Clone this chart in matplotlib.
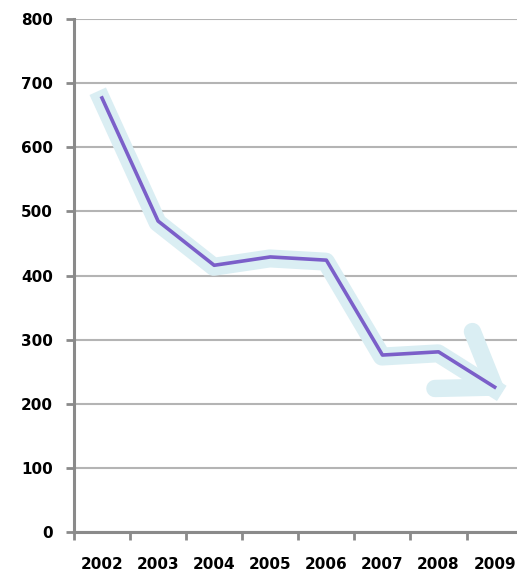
import matplotlib
matplotlib.use('Agg')
import matplotlib.pyplot as plt
import matplotlib.transforms as mtransforms

# Yearly values
years = ['2002', '2003', '2004', '2005', '2006', '2007', '2008', '2009']
values = [677, 485, 416, 429, 424, 276, 281, 226]
y_ticks = [0, 100, 200, 300, 400, 500, 600, 700, 800]

band_color = '#daeef3'
line_color = '#7b5fc9'
grid_color = '#b4b4b4'
axis_color = '#8a8a8a'

plt.rcParams['font.family'] = ['DejaVu Sans']

fig = plt.figure(figsize=(5.17, 5.75), dpi=100)
ax = fig.add_axes([0.143, 0.0748, 0.868, 0.892])

x = list(range(len(years)))

# light blue trend band behind the series, nudged down a touch
shift = mtransforms.offset_copy(ax.transData, fig=fig, x=-0.5, y=-1.5, units='dots')
ax.plot(x, values, color=band_color, lw=13, solid_capstyle='projecting',
        solid_joinstyle='round', transform=shift, zorder=2)

# arrow head at the last point
for dx, dy in [(-16, 40), (-43, -1)]:
    ax.annotate('', xy=(x[-1], values[-1]), xytext=(dx, dy), textcoords='offset points',
                arrowprops=dict(arrowstyle='-', lw=12.5, color=band_color,
                                capstyle='round', shrinkA=0, shrinkB=0),
                zorder=2)

ax.plot(x, values, color=line_color, lw=2.6, zorder=3)

ax.set_ylim(0, 800)
ax.set_xlim(-0.5, len(years) - 0.5)
ax.set_yticks(y_ticks)
ax.set_yticklabels([str(t) for t in y_ticks], fontsize=11, fontweight='bold')
ax.yaxis.grid(True, color=grid_color, lw=1.5)
ax.set_axisbelow(True)

# ticks between categories, labels at category centres
ax.set_xticks([i - 0.5 for i in range(len(years) + 1)])
ax.set_xticklabels([])
ax.set_xticks(x, minor=True)
ax.set_xticklabels(years, minor=True, fontsize=11, fontweight='bold')
ax.tick_params(axis='x', which='major', length=6, width=2, color=axis_color)
ax.tick_params(axis='x', which='minor', length=0, pad=18)
ax.tick_params(axis='y', length=6, width=2, color=axis_color, pad=9)

for side in ['top', 'right']:
    ax.spines[side].set_visible(False)
for side in ['left', 'bottom']:
    ax.spines[side].set_color(axis_color)
    ax.spines[side].set_linewidth(2.2)

fig.savefig('out.png', dpi=100)
